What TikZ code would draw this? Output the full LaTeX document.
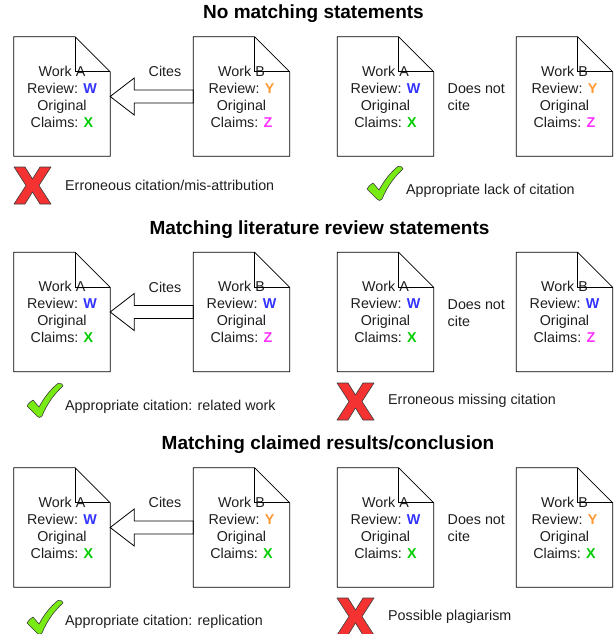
\documentclass[tikz,border=0pt]{standalone}
\usepackage{fontspec}
\setmainfont{Liberation Sans}
\usetikzlibrary{calc}
\definecolor{cW}{RGB}{51,51,255}
\definecolor{cY}{RGB}{255,153,51}
\definecolor{cZ}{RGB}{255,51,255}
\definecolor{cX}{RGB}{0,204,0}
\definecolor{xred}{RGB}{245,50,50}
\definecolor{ckgreen}{RGB}{120,235,20}
\definecolor{markline}{RGB}{60,60,60}
\definecolor{txt}{RGB}{30,30,30}
\newcommand\docoutline[1]{%
  \draw[outline] (#1.north west) -- ([xshift=-35pt]#1.north east) -- ([yshift=-35pt]#1.north east) -- (#1.south east) -- (#1.south west) -- cycle;
  \draw[outline] ([xshift=-35pt]#1.north east) -- ([xshift=-35pt,yshift=-35pt]#1.north east) -- ([yshift=-35pt]#1.north east);}
\newcommand\citearrow[2]{%
  \draw[fat] (#2.east) -- ($(#2.east)+(24,-18.5)$) -- ($(#2.east)+(24,-6.5)$) -- ($(#1.west)+(0,-6.5)$) -- ($(#1.west)+(0,6.5)$) -- ($(#2.east)+(24,6.5)$) -- ($(#2.east)+(24,18.5)$) -- cycle;}
\newcommand\cw{\textbf{\color{cW}W}}
\newcommand\cy{\textbf{\color{cY}Y}}
\newcommand\cz{\textbf{\color{cZ}Z}}
\newcommand\cxx{\textbf{\color{cX}X}}
\begin{document}
\begin{tikzpicture}[x=1pt,y=-1pt,
  doc/.style={minimum width=96pt,minimum height=119pt,inner sep=0pt,align=center,text=txt,font=\fontsize{14.3}{17}\selectfont},
  outline/.style={draw=black,line width=0.8pt},
  lbl/.style={font=\fontsize{14.3}{17}\selectfont,text=txt,anchor=west,inner sep=0pt},
  ttl/.style={font=\bfseries\fontsize{19}{22}\selectfont,inner sep=0pt},
  fat/.style={draw=black,line width=0.8pt,fill=white,line join=miter},
  xmark/.pic={\draw[fill=xred,draw=markline,line width=0.6pt,line join=round]
     (0,0) -- (11,0) -- (18.5,12) -- (26,0) -- (37,0) -- (25,18.5) -- (37,37) -- (26,37) -- (18.5,25) -- (11,37) -- (0,37) -- (12,18.5) -- cycle;},
  checkmark/.pic={\draw[fill=ckgreen,draw=markline,line width=0.6pt,line join=round]
     (0,23) .. controls (2,20) and (4,18) .. (6,17) -- (12,24) .. controls (18,13) and (25,5) .. (31,0.5) .. controls (34,0) and (36,1) .. (36,3) .. controls (27,11) and (20,21) .. (15,33) .. controls (14,35) and (11,35) .. (10,33) -- cycle;}]
\useasboundingbox (0,0) rectangle (613,634);

% ---------- Row 1 ----------
\node[ttl] (t1) at (313.5,14) {No matching statements};
\node[doc] (a1) at (62,96.5) {Work A\\Review: \cw\\Original\\Claims: \cxx};
\node[doc] (b1) at (241.5,96.5) {Work B\\Review: \cy\\Original\\Claims: \cz};
\node[doc] (c1) at (385.5,96.5) {Work A\\Review: \cw\\Original\\Claims: \cxx};
\node[doc] (d1) at (564.5,96.5) {Work B\\Review: \cy\\Original\\Claims: \cz};
\citearrow{b1}{a1}
\docoutline{a1}\docoutline{b1}\docoutline{c1}\docoutline{d1}
\node[lbl,anchor=center] (cites1) at (165,71) {Cites};
\node[lbl,align=left] (dnc1) at (447.5,97.5) {Does not\\cite};
\pic at (14,167) {xmark};
\node[lbl] (l1) at (65,185) {Erroneous citation/mis-attribution};
\pic at (367,166) {checkmark};
\node[lbl] (r1) at (406,191) {Appropriate lack of citation};

% ---------- Row 2 ----------
\node[ttl] (t2) at (319.5,230) {Matching literature review statements};
\node[doc] (a2) at (62,312) {Work A\\Review: \cw\\Original\\Claims: \cxx};
\node[doc] (b2) at (241.5,312) {Work B\\Review: \cw\\Original\\Claims: \cz};
\node[doc] (c2) at (385.5,312) {Work A\\Review: \cw\\Original\\Claims: \cxx};
\node[doc] (d2) at (564.5,312) {Work B\\Review: \cw\\Original\\Claims: \cz};
\citearrow{b2}{a2}
\docoutline{a2}\docoutline{b2}\docoutline{c2}\docoutline{d2}
\node[lbl,anchor=center] (cites2) at (165,287) {Cites};
\node[lbl,align=left] (dnc2) at (447.5,313.5) {Does not\\cite};
\pic at (27,383) {checkmark};
\node[lbl] (l2) at (65,407) {Appropriate citation: related work};
\pic at (337,383) {xmark};
\node[lbl] (r2) at (388,401) {Erroneous missing citation};

% ---------- Row 3 ----------
\node[ttl] (t3) at (328,445) {Matching claimed results/conclusion};
\node[doc] (a3) at (62,527.5) {Work A\\Review: \cw\\Original\\Claims: \cxx};
\node[doc] (b3) at (241.5,527.5) {Work B\\Review: \cy\\Original\\Claims: \cxx};
\node[doc] (c3) at (385.5,527.5) {Work A\\Review: \cw\\Original\\Claims: \cxx};
\node[doc] (d3) at (564.5,527.5) {Work B\\Review: \cy\\Original\\Claims: \cxx};
\citearrow{b3}{a3}
\docoutline{a3}\docoutline{b3}\docoutline{c3}\docoutline{d3}
\node[lbl,anchor=center] (cites3) at (165,502) {Cites};
\node[lbl,align=left] (dnc3) at (447.5,528.5) {Does not\\cite};
\pic at (27,600) {checkmark};
\node[lbl] (l3) at (65,622) {Appropriate citation: replication};
\pic at (337,598) {xmark};
\node[lbl] (r3) at (388,617) {Possible plagiarism};
\end{tikzpicture}
\end{document}
